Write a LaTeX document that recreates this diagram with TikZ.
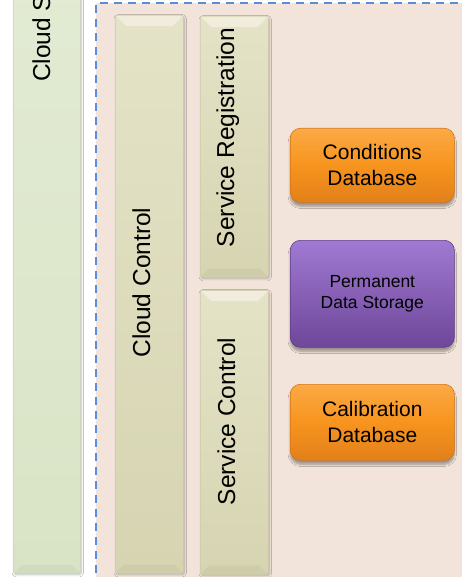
\documentclass[tikz,border=0pt]{standalone}
\usepackage{fontspec}
\setmainfont{Liberation Sans}
\usetikzlibrary{shadows.blur,calc}

\definecolor{areafill}{HTML}{F2E4DA}
\definecolor{areaedge}{HTML}{5B8DD9}
\definecolor{olivetop}{HTML}{E4E3C7}
\definecolor{olivebot}{HTML}{D6D4B1}
\definecolor{oliveedge}{HTML}{CDCBA9}
\definecolor{olivelight}{HTML}{F1ECDC}
\definecolor{olivedark}{HTML}{CFCDA9}
\definecolor{greentop}{HTML}{E2EBD3}
\definecolor{greenbot}{HTML}{D9E4C6}
\definecolor{greenedge}{HTML}{CAD5B8}
\definecolor{greendark}{HTML}{D1DCBE}
\definecolor{orangetop}{HTML}{FBAA45}
\definecolor{orangemid}{HTML}{F7941E}
\definecolor{orangebot}{HTML}{E2801A}
\definecolor{orangeedge}{HTML}{D47416}
\definecolor{purpletop}{HTML}{A07AD2}
\definecolor{purplemid}{HTML}{8A5DBF}
\definecolor{purplebot}{HTML}{6E4799}
\definecolor{purpleedge}{HTML}{5F3E88}

% top and bottom bevel facets of a bar
\newcommand{\barbevel}[3]{%
  \fill[#2] ([shift={(1,1)}]#1.north west) -- ([shift={(-1,1)}]#1.north east)
    -- ([shift={(-11,11)}]#1.north east) -- ([shift={(11,11)}]#1.north west) -- cycle;
  \fill[#3] ([shift={(1,-1)}]#1.south west) -- ([shift={(-1,-1)}]#1.south east)
    -- ([shift={(-9,-9)}]#1.south east) -- ([shift={(9,-9)}]#1.south west) -- cycle;
}

\tikzset{
  area/.style={draw=areaedge, line width=1.6pt, dash pattern=on 8pt off 6pt,
    fill=areafill, anchor=north west, inner sep=0pt},
  bar/.style={draw=oliveedge, line width=0.5pt, rounded corners=2pt,
    top color=olivetop, bottom color=olivebot, anchor=north west, inner sep=0pt,
    blur shadow={shadow xshift=1pt, shadow yshift=-1.5pt, shadow blur steps=5, shadow opacity=25}},
  greenbar/.style={bar, draw=greenedge, top color=greentop, bottom color=greenbot},
  dbbox/.style={draw=orangeedge, line width=0.6pt, rounded corners=10pt,
    top color=orangetop, bottom color=orangebot, middle color=orangemid,
    anchor=north west, inner sep=0pt,
    blur shadow={shadow xshift=0pt, shadow yshift=-4pt, shadow blur steps=8, shadow opacity=35}},
  storebox/.style={dbbox, draw=purpleedge, top color=purpletop,
    middle color=purplemid, bottom color=purplebot},
  vlabel/.style={rotate=90, anchor=base, inner sep=0pt,
    font=\fontsize{24.5}{29}\selectfont},
  boxlabel/.style={align=center, inner sep=0pt,
    font=\fontsize{21}{26}\selectfont},
  smalllabel/.style={align=center, inner sep=0pt,
    font=\fontsize{17.5}{21.7}\selectfont},
}

\begin{document}
\begin{tikzpicture}[x=1pt, y=-1pt]
  \useasboundingbox (0,0) rectangle (462,577);
  \fill[white] (0,0) rectangle (462,577);
  \clip (0,0) rectangle (462,577);

  % left storage bar
  \node[greenbar, minimum width=67pt, minimum height=593pt] (cs) at (13,-20) {};
  \barbevel{cs}{greentop!60!white}{greendark}
  \node[vlabel, anchor=base west] (cslabel) at (50,82) {Cloud S};

  % dashed service area
  \node[area, minimum width=368pt, minimum height=620pt] (area) at (95,2) {};

  % control bars
  \node[bar, minimum width=68pt, minimum height=558pt] (cc) at (115,15) {};
  \barbevel{cc}{olivelight}{olivedark}
  \node[bar, minimum width=68pt, minimum height=261pt] (sr) at (200,16) {};
  \barbevel{sr}{olivelight}{olivedark}
  \node[bar, minimum width=68pt, minimum height=284pt] (sc) at (200,290) {};
  \barbevel{sc}{olivelight}{olivedark}

  \node[vlabel] (cclabel) at (150,282.5) {Cloud Control};
  \node[vlabel] (srlabel) at (234,137.5) {Service Registration};
  \node[vlabel] (sclabel) at (235,421.5) {Service Control};

  % data stores
  \node[dbbox, minimum width=164pt, minimum height=74pt] (cd) at (290,128) {};
  \node[storebox, minimum width=164pt, minimum height=107pt] (pd) at (290,240) {};
  \node[dbbox, minimum width=164pt, minimum height=76pt] (cb) at (290,384) {};

  \node[boxlabel] (cdlabel) at (cd.center) {Conditions\\Database};
  \node[smalllabel] (pdlabel) at (pd.center) {Permanent\\Data Storage};
  \node[boxlabel] (cblabel) at (cb.center) {Calibration\\Database};
\end{tikzpicture}
\end{document}
